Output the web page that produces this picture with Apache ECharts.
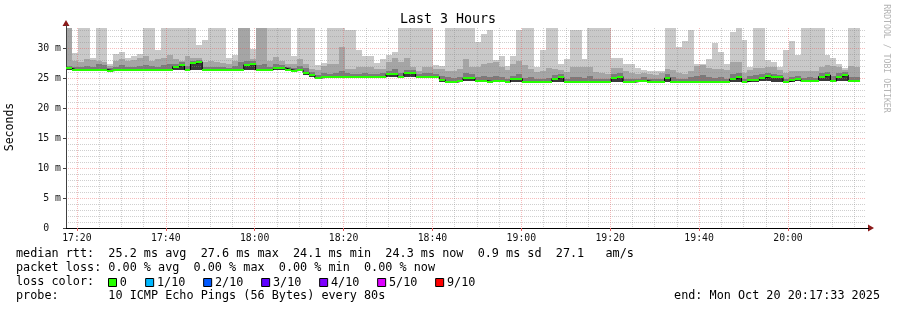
<!DOCTYPE html>
<html><head><meta charset="utf-8">
<script src="https://cdn.jsdelivr.net/npm/echarts@6/dist/echarts.min.js"></script>
<style>html,body{margin:0;padding:0;background:#fff}#c{width:897px;height:310px}</style>
</head><body><div id="c"></div>
<script>
// ---- data ----
const START = '17:17:33';
const END = '20:17:33';
const STEP = 80; // seconds per sample
const xTickLabels = ['17:20','17:40','18:00','18:20','18:40','19:00','19:20','19:40','20:00'];
const yTickValues = [0,5,10,15,20,25,30];

// median rtt (ms) per 80 s step
const median = [26.6,26.3,26.4,26.4,26.4,26.4,26.4,26.2,26.35,26.35,
 26.35,26.35,26.35,26.35,26.35,26.35,26.35,26.35,26.9,27.2,
 26.35,27.45,27.7,26.35,26.35,26.35,26.35,26.35,26.35,26.35,
 27.2,27.4,26.35,26.35,26.35,26.7,26.7,26.4,26.2,26.35,
 25.9,25.5,25.0,25.1,25.1,25.1,25.1,25.1,25.1,25.1,
 25.1,25.1,25.1,25.1,25.6,25.6,25.1,25.8,25.9,25.2,
 25.2,25.2,25.2,24.7,24.3,24.3,24.5,25.0,25.0,24.55,
 24.55,24.4,24.45,24.45,24.3,24.9,24.9,24.35,24.35,24.35,
 24.35,24.35,24.9,25.2,24.4,24.4,24.4,24.4,24.4,24.4,
 24.4,24.4,25.0,25.25,24.3,24.3,24.45,24.55,24.4,24.4,
 24.4,25.0,24.35,24.35,24.35,24.35,24.35,24.35,24.35,24.35,
 24.35,24.35,24.85,25.1,24.35,24.65,24.65,25.0,25.3,25.1,
 25.1,24.35,24.65,24.85,24.45,24.45,24.45,25.25,25.5,24.45,
 25.25,25.5,24.45,24.45];
// lowest ping (ms)
const smokeLow = [26.3,26.2,26.3,26.3,26.3,26.3,26.3,26.1,26.25,26.25,
 26.25,26.25,26.25,26.25,26.25,26.25,26.25,26.25,26.3,26.35,
 26.25,26.4,26.4,26.25,26.25,26.25,26.25,26.25,26.25,26.25,
 26.35,26.35,26.25,26.25,26.25,26.35,26.35,26.3,26.1,26.25,
 25.5,25.1,24.9,25.0,25.0,25.0,25.0,25.0,25.0,25.0,
 25.0,25.0,25.0,25.0,25.1,25.1,25.0,25.15,25.15,25.1,
 25.1,25.1,25.1,24.4,24.2,24.2,24.3,24.45,24.45,24.4,
 24.4,24.3,24.35,24.35,24.2,24.35,24.35,24.25,24.25,24.25,
 24.25,24.25,24.35,24.4,24.3,24.3,24.3,24.3,24.3,24.3,
 24.3,24.3,24.35,24.4,24.2,24.2,24.3,24.35,24.3,24.3,
 24.3,24.35,24.25,24.25,24.25,24.25,24.25,24.25,24.25,24.25,
 24.25,24.25,24.35,24.4,24.25,24.4,24.4,24.45,24.5,24.4,
 24.4,24.25,24.4,24.45,24.35,24.35,24.35,24.45,24.45,24.35,
 24.45,24.45,24.35,24.35];
// inner smoke band top (ms)
const smokeInner = [27.0,26.8,26.9,27.0,26.9,27.3,27.2,26.6,26.9,27.1,
 26.8,26.9,27.0,27.2,27.0,26.9,27.2,27.3,27.4,27.6,
 27.0,27.8,28.0,26.9,26.8,26.9,26.8,26.7,27.0,27.6,
 27.8,27.9,27.2,27.3,26.9,27.3,27.1,26.8,26.6,27.0,
 26.6,26.0,25.5,25.8,25.6,25.8,26.2,25.9,25.7,25.6,
 25.8,25.7,25.6,25.8,26.2,26.5,25.9,26.4,26.3,25.7,
 25.8,25.9,25.7,25.4,25.2,25.0,25.2,25.8,25.6,25.2,
 25.4,25.1,25.3,25.2,24.9,25.4,25.6,25.0,25.1,24.8,
 24.9,25.0,25.5,25.7,24.9,25.1,25.2,25.0,25.3,24.9,
 24.9,24.8,25.6,25.8,24.8,24.9,24.9,25.1,24.8,24.9,
 24.9,25.7,25.1,24.9,24.8,25.2,25.3,25.5,25.2,25.0,
 25.2,24.9,25.6,25.8,24.9,25.3,25.5,25.7,25.9,25.6,
 25.5,24.9,25.2,25.4,25.0,25.1,25.0,25.8,26.0,25.4,
 25.8,26.0,25.1,25.2];
// middle smoke band top (ms)
const smokeMid = [33.3,27.9,27.6,28.2,28.0,27.8,27.6,27.0,27.9,28.1,
 27.8,28.0,28.4,28.7,27.9,28.1,28.3,28.8,28.2,27.8,
 28.6,28.4,28.4,27.6,27.8,27.6,27.5,27.3,27.9,33.3,
 33.3,28.2,33.3,33.3,27.9,28.5,27.9,27.3,27.3,28.1,
 27.3,26.5,26.3,27.0,27.3,27.3,30.1,26.5,26.5,26.9,
 26.9,26.9,26.5,26.5,27.6,28.3,27.6,28.3,26.8,26.2,
 26.8,26.8,26.5,26.5,26.2,26.2,26.5,28.2,26.8,26.8,
 27.4,27.5,27.6,26.8,26.4,27.4,27.8,27.2,26.5,26.0,
 26.1,26.6,26.5,26.3,26.0,26.8,26.8,26.8,26.8,26.0,
 25.8,25.6,26.7,26.6,26.1,25.9,25.6,25.8,25.6,25.5,
 25.8,26.5,26.3,25.8,25.7,26.2,27.0,27.2,26.6,26.5,
 26.5,26.3,27.6,27.7,25.8,26.4,26.7,26.7,26.9,26.8,
 26.4,25.8,26.1,26.1,26.2,26.2,26.1,26.8,27.1,27.0,
 26.8,26.3,27.0,26.9];
// highest ping (ms)
const smokeTop = [33.3,29.1,33.3,33.3,28.4,33.3,33.3,27.4,29.0,29.3,
 28.4,28.6,29.0,33.3,33.3,29.6,33.3,33.3,33.3,33.3,
 33.3,33.3,30.5,31.3,33.3,33.3,33.3,28.4,28.8,33.3,
 33.3,29.8,33.3,33.3,33.3,33.3,33.3,33.3,28.7,33.3,
 33.3,33.3,27.2,27.5,33.3,33.3,33.3,33.0,33.0,29.7,
 28.6,28.6,27.5,28.2,28.9,29.4,33.3,33.3,33.3,33.3,
 33.3,33.3,27.2,27.0,33.3,33.3,33.3,33.3,33.3,31.0,
 32.4,33.0,28.0,28.7,27.0,28.7,33.0,33.3,33.3,26.8,
 29.6,33.3,33.3,27.4,28.1,33.0,33.0,28.2,33.3,33.3,
 33.3,33.3,28.4,28.4,27.4,27.4,26.6,26.4,26.2,26.2,
 26.2,33.3,33.3,30.2,31.1,33.0,27.3,27.3,28.1,30.8,
 29.3,27.4,32.6,33.3,31.3,26.9,33.3,33.3,28.0,27.6,
 26.9,29.7,31.1,28.8,33.3,33.3,33.3,33.3,28.8,28.3,
 27.4,26.6,33.3,33.3];

const lossNames = ['0','1/10','2/10','3/10','4/10','5/10','9/10'];
const lossColors = ['#26ff00','#00b8ff','#0059ff','#5e00ff','#7e00ff','#dd00ff','#ff0000'];
const legendLines = [
  'median rtt:  25.2 ms avg  27.6 ms max  24.1 ms min  24.3 ms now  0.9 ms sd  27.1   am/s',
  'packet loss: 0.00 % avg  0.00 % max  0.00 % min  0.00 % now',
  'loss color:',
  'probe:       10 ICMP Echo Pings (56 Bytes) every 80s'
];
const endText = 'end: Mon Oct 20 20:17:33 2025';

// ---- build ----
const toSec = s => { const p = s.split(':').map(Number); return p[0]*3600 + p[1]*60 + (p[2]||0); };
const T0 = toSec(START), T1 = toSec(END);
const Y_MAX = 200/6;
const majorX = xTickLabels.map(toSec);
const minorX = [];
for (let t = majorX[0]; t < T1; t += 300) if ((t - majorX[0]) % 1200 !== 0) minorX.push(t);
const minorY = [];
for (let v = 1; v < Y_MAX; v++) if (v % 5 !== 0) minorY.push(v);
const N = median.length;
const rows = median.map((m,i)=>[T0+i*STEP, T0+(i+1)*STEP, smokeLow[i], m, smokeInner[i], smokeMid[i], smokeTop[i]]);
const lineData = median.map((m,i)=>[T0+i*STEP, m]).concat([[T0+N*STEP, median[N-1]]]);
const pad = n => (n<10?'0':'')+n;
const fmtT = v => pad(Math.floor(v/3600)) + ':' + pad(Math.floor((v%3600)/60));

const MONO = '"DejaVu Sans Mono", monospace';
const MAJOR_COL = 'rgba(232,80,80,0.38)';
const MINOR_COL = 'rgba(140,140,140,0.42)';
const SMOKE = ['#3a3a3a','#7a7a7a','#a5a5a5','#c9c9c9'];

function renderSmoke(params, api){
  const t0 = api.value(0), t1 = api.value(1);
  const xa = Math.round(api.coord([t0,0])[0]), xb = Math.round(api.coord([t1,0])[0]);
  const y = v => Math.round(api.coord([t0,v])[1]);
  const vals = [api.value(2), api.value(3), api.value(4), api.value(5), api.value(6)];
  const children = [];
  for (let k=0;k<4;k++){
    const y1 = y(vals[k+1]), y0 = y(vals[k]);
    if (y0 - y1 <= 0) continue;
    children.push({type:'rect', shape:{x:xa, y:y1, width:xb-xa, height:y0-y1}, style:{fill:SMOKE[k]}});
  }
  return {type:'group', children};
}
function renderMedian(params, api){
  const t0 = api.value(0), t1 = api.value(1);
  const xa = Math.round(api.coord([t0,0])[0]), xb = Math.round(api.coord([t1,0])[0]);
  const yy = Math.round(api.coord([t0, api.value(3)])[1]);
  return {type:'rect', shape:{x:xa, y:yy-1, width:xb-xa, height:2}, style:{fill:lossColors[0]}};
}

const chart = echarts.init(document.getElementById('c'), null, {renderer:'canvas'});
const option = {
  animation:false,
  backgroundColor:'#ffffff',
  grid:{left:66, right:31, top:28, bottom:82},
  xAxis:[
    {type:'value', min:T0, max:T1, z:2,
     axisLine:{show:true, lineStyle:{color:'#000', width:1}},
     axisTick:{show:true, customValues:majorX, length:3, lineStyle:{color:'#e06060'}},
     axisLabel:{customValues:majorX, formatter:v=>fmtT(v), fontFamily:MONO, fontSize:9.8, color:'#111', margin:5},
     splitLine:{show:true, lineStyle:{color:MAJOR_COL, type:[1,1], width:1}}},
    {type:'value', min:T0, max:T1, z:2,
     axisLine:{show:false}, axisTick:{show:false, customValues:minorX}, axisLabel:{show:false},
     splitLine:{show:true, lineStyle:{color:MINOR_COL, type:[1,1], width:1}}}
  ],
  yAxis:[
    {type:'value', min:0, max:Y_MAX, z:2,
     axisLine:{show:true, lineStyle:{color:'#404040', width:1}},
     axisTick:{show:true, customValues:yTickValues, length:3, lineStyle:{color:'#404040'}},
     axisLabel:{customValues:yTickValues, formatter:v=> v===0 ? '0  ' : v+' m', fontFamily:MONO, fontSize:9.8, color:'#111', margin:5},
     splitLine:{show:true, lineStyle:{color:MAJOR_COL, type:[1,1], width:1}}},
    {type:'value', min:0, max:Y_MAX, z:2,
     axisLine:{show:false}, axisTick:{show:false, customValues:minorY}, axisLabel:{show:false},
     splitLine:{show:true, lineStyle:{color:MINOR_COL, type:[1,1], width:1}}}
  ],
  series:[
    {type:'custom', name:'smoke', xAxisIndex:0, yAxisIndex:0, z:1, clip:true,
     renderItem:renderSmoke, encode:{x:[0,1], y:[2,3,4,5,6]}, data:rows},
    {type:'line', name:'median', xAxisIndex:0, yAxisIndex:0, z:3, step:'end', symbol:'none',
     lineStyle:{color:'#000', width:1}, data:lineData},
    {type:'custom', name:'median loss', xAxisIndex:0, yAxisIndex:0, z:4, clip:true,
     renderItem:renderMedian, encode:{x:[0,1], y:3}, data:rows}
  ]
};
chart.setOption(option);

// decorations (text, legend, arrows)
const pTL = chart.convertToPixel({xAxisIndex:0, yAxisIndex:0}, [T0, Y_MAX]);
const pBR = chart.convertToPixel({xAxisIndex:0, yAxisIndex:0}, [T1, 0]);
const txt = (x, y, text, size) => ({type:'text', x, y, z:10,
  style:{text, font: size+'px '+MONO, fill:'#000', align:'left', verticalAlign:'middle', textAlign:'left', textVerticalAlign:'middle'}});
const gfx = [];
gfx.push({type:'text', x:448, y:19.5, z:10,
  style:{text:'Last 3 Hours', font:'13.3px '+MONO, fill:'#000', align:'center', verticalAlign:'middle', textAlign:'center', textVerticalAlign:'middle'}});
gfx.push({type:'text', x:10.5, y:127, rotation:Math.PI/2, z:10,
  style:{text:'Seconds', font:'11.5px '+MONO, fill:'#000', align:'center', verticalAlign:'middle', textAlign:'center', textVerticalAlign:'middle'}});
gfx.push({type:'text', x:886, y:58.5, rotation:-Math.PI/2, z:10,
  style:{text:'RRDTOOL / TOBI OETIKER', font:'8.2px '+MONO, fill:'#b4b4b4', align:'center', verticalAlign:'middle', textAlign:'center', textVerticalAlign:'middle'}});
legendLines.forEach((s,i)=>gfx.push(txt(16, 254.3 + i*14, s, 11.8)));
gfx.push({type:'text', x:880, y:296.3, z:10,
  style:{text:endText, font:'11.8px '+MONO, fill:'#000', align:'right', verticalAlign:'middle', textAlign:'right', textVerticalAlign:'middle'}});
let lx = 108.5;
lossNames.forEach((n,i)=>{
  gfx.push({type:'rect', z:10, shape:{x:lx, y:278.5, width:8, height:8}, style:{fill:lossColors[i], stroke:'#000', lineWidth:1}});
  gfx.push(txt(lx + 11.3, 282.5, n, 11.8));
  lx += 30.2 + n.length * 6.95;
});
// axis arrows
const AR = '#8b1a1a';
gfx.push({type:'polygon', z:10, shape:{points:[[pBR[0]+2, pBR[1]-3.5],[pBR[0]+8, pBR[1]],[pBR[0]+2, pBR[1]+3.5]]}, style:{fill:AR}});
gfx.push({type:'line', z:10, shape:{x1:pBR[0], y1:pBR[1]+0.5, x2:pBR[0]+3, y2:pBR[1]+0.5}, style:{stroke:'#000', lineWidth:1}});
gfx.push({type:'polygon', z:10, shape:{points:[[pTL[0]-3.5, pTL[1]-2],[pTL[0], pTL[1]-8],[pTL[0]+3.5, pTL[1]-2]]}, style:{fill:AR}});
gfx.push({type:'line', z:10, shape:{x1:pTL[0]+0.5, y1:pTL[1], x2:pTL[0]+0.5, y2:pTL[1]-3}, style:{stroke:'#404040', lineWidth:1}});
chart.setOption({graphic:{elements:gfx}});
</script></body></html>
